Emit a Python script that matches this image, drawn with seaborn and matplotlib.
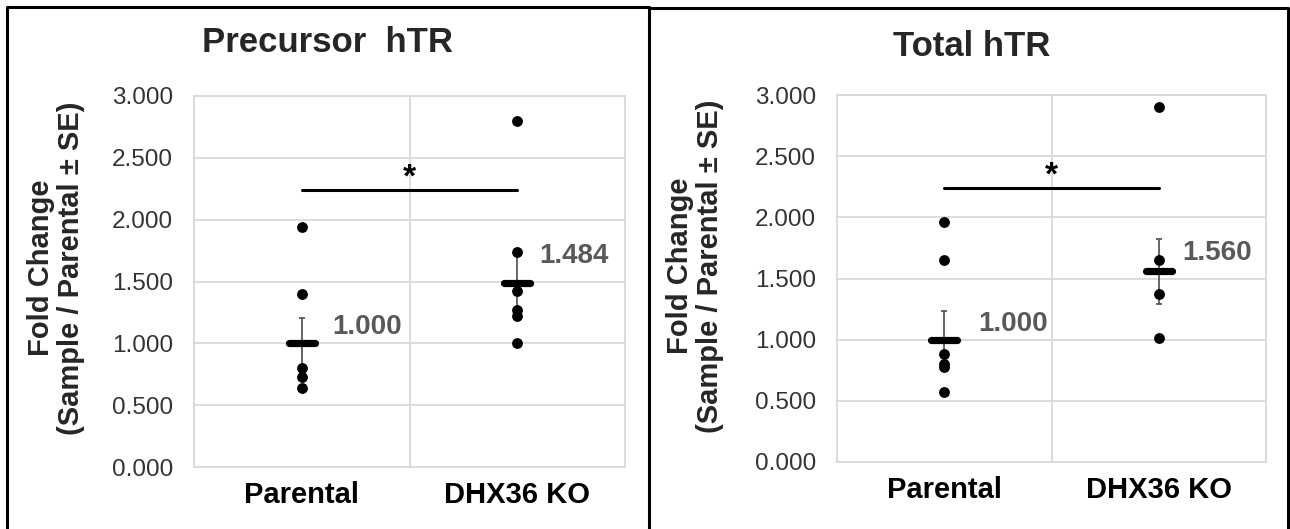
import numpy as np
import pandas as pd
import matplotlib
matplotlib.use("Agg")
import matplotlib.pyplot as plt
from matplotlib.lines import Line2D
import seaborn as sns

# categories
groups = ["Parental", "DHX36 KO"]

# Precursor hTR - individual replicates
pre_parental = [1.94, 1.40, 0.80, 0.73, 0.64]
pre_dhx36 = [2.80, 1.74, 1.42, 1.27, 1.22, 1.00]
pre_mean = [1.000, 1.484]
pre_se = [0.205, 0.250]

# Total hTR - individual replicates
tot_parental = [1.96, 1.65, 0.88, 0.80, 0.78, 0.57]
tot_dhx36 = [2.90, 1.65, 1.37, 1.01]
tot_mean = [1.000, 1.560]
tot_se = [0.233, 0.265]

# significance bar height
sig_y = 2.24

yticks = [0.0, 0.5, 1.0, 1.5, 2.0, 2.5, 3.0]

sns.set_theme(style="whitegrid")
plt.rcParams["font.family"] = ["Liberation Sans", "DejaVu Sans"]

W, H = 1290, 529
fig = plt.figure(figsize=(W / 100, H / 100), dpi=100)
fig.patch.set_facecolor("white")


def px_axes(x0, y0, x1, y1):
    # pixel box (top-left origin) -> figure fraction axes
    return fig.add_axes([x0 / W, 1 - y1 / H, (x1 - x0) / W, (y1 - y0) / H])


def draw_panel(ax, parental, dhx36, means, se, lab_dx):
    df = pd.DataFrame({
        "group": [groups[0]] * len(parental) + [groups[1]] * len(dhx36),
        "fold": parental + dhx36,
    })
    xs = np.arange(len(groups))
    # error bars (behind)
    ax.errorbar(xs, means, yerr=se, fmt="none", ecolor="#595959",
                elinewidth=1.3, capsize=2.5, capthick=1.3, zorder=2)
    sns.stripplot(data=df, x="group", y="fold", order=groups, jitter=False,
                  color="black", size=7.8, linewidth=0, ax=ax, zorder=3)
    # mean bars
    ax.hlines(means, xs - 0.06, xs + 0.06, colors="black", lw=5.2,
              zorder=4, capstyle="round")
    for x, m, dx in zip(xs, means, lab_dx):
        ax.text(x + dx, 1.13 if x == 0 else 1.71, f"{m:.3f}", color="#595959",
                fontsize=20, fontweight="bold", ha="left", va="center")
    # significance
    ax.plot([0, 1], [sig_y, sig_y], color="black", lw=2.2, zorder=4)
    ax.text(0.5, sig_y - 0.03, "*", ha="center", va="bottom", fontsize=24,
            fontweight="bold", color="black")

    ax.set_xlim(-0.5, 1.5)
    ax.set_ylim(0, 3)
    ax.set_yticks(yticks)
    ax.set_yticklabels([f"{v:.3f}" for v in yticks], fontsize=17.5, color="#333333")
    ax.set_xticks([0.5], minor=True)
    ax.grid(False)
    ax.grid(True, axis="y", which="major", color="#d9d9d9", lw=1.3)
    ax.grid(True, axis="x", which="minor", color="#d9d9d9", lw=1.3)
    ax.set_xticklabels(groups, fontsize=21, fontweight="bold", color="black")
    ax.tick_params(axis="y", pad=15, length=0)
    ax.tick_params(axis="x", pad=10, length=0, which="both")
    ax.set_xlabel("")
    ax.set_ylabel("")
    for s in ax.spines.values():
        s.set_color("#d9d9d9")
        s.set_linewidth(1.3)
    ax.set_axisbelow(True)


ax1 = px_axes(194, 96, 625, 467)
draw_panel(ax1, pre_parental, pre_dhx36, pre_mean, pre_se, [0.14, 0.10])
ax2 = px_axes(837, 95, 1266, 462)
draw_panel(ax2, tot_parental, tot_dhx36, tot_mean, tot_se, [0.16, 0.11])

ylab = "Fold Change\n(Sample / Parental ± SE)"
fig.text(56 / W, 1 - 268 / H, ylab, rotation=90, ha="center", va="center",
         fontsize=21, fontweight="bold", linespacing=1.05)
fig.text(695 / W, 1 - 266 / H, ylab, rotation=90, ha="center", va="center",
         fontsize=21, fontweight="bold", linespacing=1.05)

fig.text(327 / W, 1 - 43 / H, "Precursor  hTR", ha="center", va="center",
         fontsize=25, fontweight="bold")
fig.text(972 / W, 1 - 47 / H, "Total hTR", ha="center", va="center",
         fontsize=25, fontweight="bold")

# panel borders
def fline(xp, yp):
    fig.add_artist(Line2D([x / W for x in xp], [1 - y / H for y in yp],
                          color="black", lw=2.2, transform=fig.transFigure))

fline([7, 7, 649, 649], [540, 7, 7, 540])
fline([649, 1288, 1288], [8, 8, 540])

fig.savefig("out.png", dpi=100, facecolor="white")
